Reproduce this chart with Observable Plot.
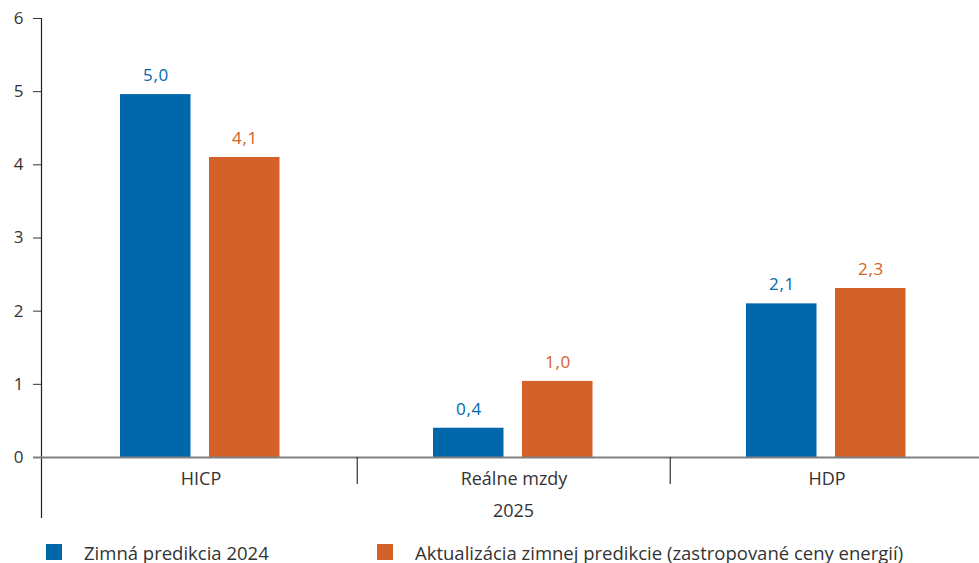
<!DOCTYPE html>
<html>
<head>
<meta charset="utf-8">
<script src="https://cdn.jsdelivr.net/npm/d3@7"></script>
<script src="https://cdn.jsdelivr.net/npm/@observablehq/plot@0.6"></script>
<style>
  html, body { margin: 0; padding: 0; background: #fff; }
  #chart { position: relative; width: 979px; height: 563px; font-family: "Open Sans", "Noto Sans", sans-serif; }
  #legend { position: absolute; left: 0; top: 530px; width: 979px; height: 33px; }
  .item { position: absolute; top: 14px; display: flex; align-items: center; height: 16px; font-size: 18.5px; color: #333; white-space: nowrap; }
  .sw { width: 16px; height: 16px; margin-right: 22px; }
  .vlabel text { letter-spacing: 0.8px; }
</style>
</head>
<body>
<div id="chart"></div>
<script>
const categories = ["HICP", "Reálne mzdy", "HDP"];
const seriesNames = ["Zimná predikcia 2024", "Aktualizácia zimnej predikcie (zastropované ceny energií)"];
const winterPrediction = [4.96, 0.40, 2.10];
const updatePrediction = [4.10, 1.04, 2.31];
const yTicks = [0, 1, 2, 3, 4, 5, 6];
const periodLabel = "2025";
const colors = ["#0067AB", "#D4602A"];

const rowsA = categories.map((c, i) => ({category: c, value: winterPrediction[i], series: seriesNames[0]}));
const rowsB = categories.map((c, i) => ({category: c, value: updatePrediction[i], series: seriesNames[1]}));

const xRange = [43, 983.5];
const step = (xRange[1] - xRange[0]) / categories.length;
const fmt = v => v.toFixed(1).replace(".", ",");
const font = "'Open Sans', 'Noto Sans', sans-serif";

const plot = Plot.plot({
  width: 979,
  height: 530,
  marginTop: 18,
  marginBottom: 13,
  marginLeft: 41,
  marginRight: 0,
  style: {fontFamily: font, fontSize: "17px", color: "#333", background: "#fff"},
  x: {domain: categories, range: xRange, padding: 0, axis: null},
  y: {domain: [0, 6], range: [457, 18], axis: null},
  marks: [
    Plot.axisY({ticks: yTicks, label: null, tickSize: 8, tickPadding: 10, tickFormat: d => String(d), fontSize: 17, stroke: "#333", fill: "#333"}),
    Plot.frame({anchor: "left", stroke: "#222", strokeWidth: 1.2}),
    Plot.barY(rowsA, {x: "category", y: "value", fill: colors[0], insetLeft: 76, insetRight: 166.5}),
    Plot.barY(rowsB, {x: "category", y: "value", fill: colors[1], insetLeft: 165, insetRight: 77.5}),
    Plot.ruleY([0], {stroke: "#808080", strokeWidth: 2, insetLeft: -8}),
    Plot.text(rowsA, {x: "category", y: "value", text: d => fmt(d.value), dx: -45, dy: -19, fill: colors[0], fontSize: 17, className: "vlabel"}),
    Plot.text(rowsB, {x: "category", y: "value", text: d => fmt(d.value), dx: 44, dy: -19, fill: colors[1], fontSize: 17, className: "vlabel"}),
    Plot.text(categories, {x: d => d, y: () => 0, text: d => d, dy: 22, fill: "#333", fontSize: 18}),
    Plot.ruleX(categories.slice(1), {x: d => d, y1: () => 0, y2: () => -0.37, dx: -step / 2, stroke: "#333", strokeWidth: 1.2}),
    Plot.text([periodLabel], {frameAnchor: "bottom", text: d => d, dy: -1, dx: 3, fill: "#333", fontSize: 18})
  ]
});

const chart = document.getElementById("chart");
chart.appendChild(plot);

const legend = document.createElement("div");
legend.id = "legend";
const lefts = [46, 377];
seriesNames.forEach((name, i) => {
  const item = document.createElement("div");
  item.className = "item";
  item.style.left = lefts[i] + "px";
  const sw = document.createElement("span");
  sw.className = "sw";
  sw.style.background = colors[i];
  const label = document.createElement("span");
  label.textContent = name;
  item.appendChild(sw);
  item.appendChild(label);
  legend.appendChild(item);
});
chart.appendChild(legend);
</script>
</body>
</html>
